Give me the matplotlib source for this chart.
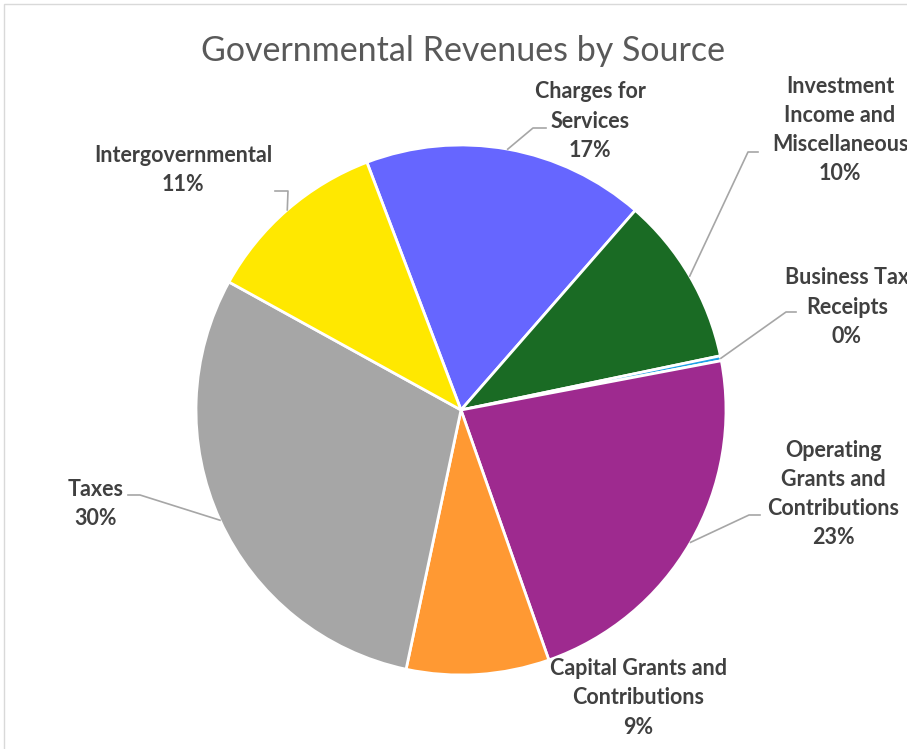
import numpy as np
import matplotlib.pyplot as plt
from matplotlib.patches import Rectangle

plt.rcParams['font.family'] = ['Lato', 'DejaVu Sans']

# slices listed clockwise, starting at the boundary left of 12 o'clock
sources = ["Charges for\nServices", "Investment\nIncome and\nMiscellaneous",
           "Business Tax\nReceipts", "Operating\nGrants and\nContributions",
           "Capital Grants and\nContributions", "Taxes", "Intergovernmental"]
shares = [17.2, 10.3, 0.3, 22.6, 8.7, 29.7, 11.2]
pct_labels = ["17%", "10%", "0%", "23%", "9%", "30%", "11%"]
colors = ["#6666FF", "#1A6B24", "#1EA0E6", "#9E2A8F", "#FF9933", "#A6A6A6", "#FFE800"]

W, H = 907, 749
cx, cy, R = 461, 410, 265

# label centres and leader elbows (pixel coords, y from top)
label_pos = [(590, 121), (840, 130), (847, 307), (833, 494), (638, 698), (96, 504), (183, 170)]
elbows = [(533, 128), (748, 152), (786, 312), (749, 515), None, (140, 495), (288, 191)]
tails = [(546, 128), (758, 152), (796, 312), (760, 515), None, (128, 495), (275, 191)]

fig = plt.figure(figsize=(W / 100, H / 100), dpi=100)
ax = fig.add_axes([0, 0, 1, 1])

wedges, _ = ax.pie(shares, colors=colors, startangle=90 + 20.8, counterclock=False,
                   center=(cx, H - cy), radius=R,
                   wedgeprops=dict(edgecolor='white', linewidth=2))
ax.set_xlim(0, W)
ax.set_ylim(0, H)
ax.set_aspect('equal')
ax.axis('off')

for i, w in enumerate(wedges):
    lx, ly = label_pos[i]
    ax.text(lx, H - ly, sources[i] + "\n" + pct_labels[i], ha='center', va='center',
            fontsize=15.5, fontweight='bold', color='#404040', linespacing=1.49)
    if elbows[i] is None:
        continue
    mid = np.deg2rad((w.theta1 + w.theta2) / 2)
    ex = cx + R * np.cos(mid)
    ey = H - cy + R * np.sin(mid)
    px = [ex, elbows[i][0], tails[i][0]]
    py = [ey, H - elbows[i][1], H - tails[i][1]]
    ax.plot(px, py, color='#A6A6A6', linewidth=1.2)

ax.text(463, H - 51, "Governmental Revenues by Source", ha='center', va='center',
        fontsize=24.5, color='#595959')

fig.patches.append(Rectangle((4 / W, -0.1), 1.2, (H - 4) / H + 0.1, transform=fig.transFigure,
                             fill=False, edgecolor='#D9D9D9', linewidth=1))

fig.savefig("out.png", dpi=100)
